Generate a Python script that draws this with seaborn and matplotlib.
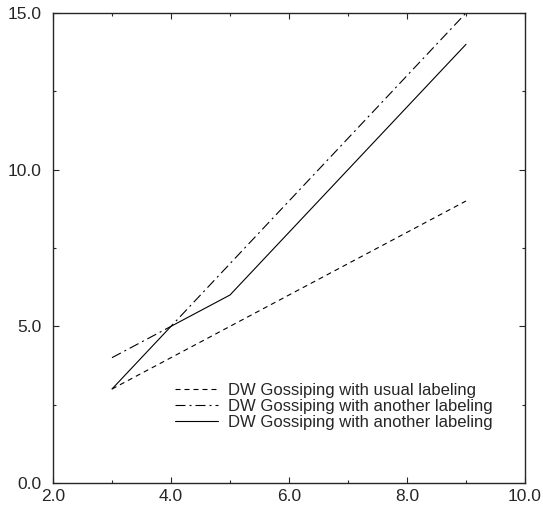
import matplotlib
matplotlib.use("Agg")
import matplotlib.pyplot as plt
import seaborn as sns
import pandas as pd
from matplotlib.ticker import MultipleLocator, FormatStrFormatter

# dados
x = [3, 4, 5, 6, 7, 8, 9]
usual = [3, 4, 5, 6, 7, 8, 9]
another_a = [4, 5, 7, 9, 11, 13, 15]
another_b = [3, 5, 6, 8, 10, 12, 14]
labels = ['DW Gossiping with usual labeling',
          'DW Gossiping with another labeling',
          'DW Gossiping with another labeling']

sns.set_style('ticks')
plt.rcParams['font.family'] = ['Liberation Sans', 'DejaVu Sans']

fig = plt.figure(figsize=(5.43, 5.11), dpi=100)
ax = fig.add_axes([53 / 543, 28 / 511, 472 / 543, 470 / 511])

series = [usual, another_a, another_b]
styles = [(0, (4.5, 3.6)), (0, (9, 3.6, 1.8, 3.6)), '-']
for ys, lab, ls in zip(series, labels, styles):
    df = pd.DataFrame({'x': x, 'y': ys})
    sns.lineplot(data=df, x='x', y='y', ax=ax, color='black', linewidth=0.8,
                 linestyle=ls, label=lab)

ax.set_xlim(2, 10)
ax.set_ylim(0, 15)
ax.xaxis.set_major_locator(MultipleLocator(2))
ax.xaxis.set_minor_locator(MultipleLocator(1))
ax.yaxis.set_major_locator(MultipleLocator(5))
ax.yaxis.set_minor_locator(MultipleLocator(2.5))
ax.xaxis.set_major_formatter(FormatStrFormatter('%.1f'))
ax.yaxis.set_major_formatter(FormatStrFormatter('%.1f'))
ax.tick_params(which='both', direction='in', top=True, right=True, width=0.8)
ax.tick_params(which='major', length=4, labelsize=12.5)
ax.tick_params(which='minor', length=2.2)
ax.tick_params(axis='y', pad=8)
ax.tick_params(axis='x', pad=4)
ax.set_xlabel('')
ax.set_ylabel('')
for s in ax.spines.values():
    s.set_linewidth(1.0)

ax.legend(loc='upper left', bbox_to_anchor=(0.258, 0.213), frameon=False,
          fontsize=12, handlelength=2.6, labelspacing=0.05, handletextpad=0.6,
          borderpad=0, borderaxespad=0)

fig.savefig('out.png', dpi=100)
